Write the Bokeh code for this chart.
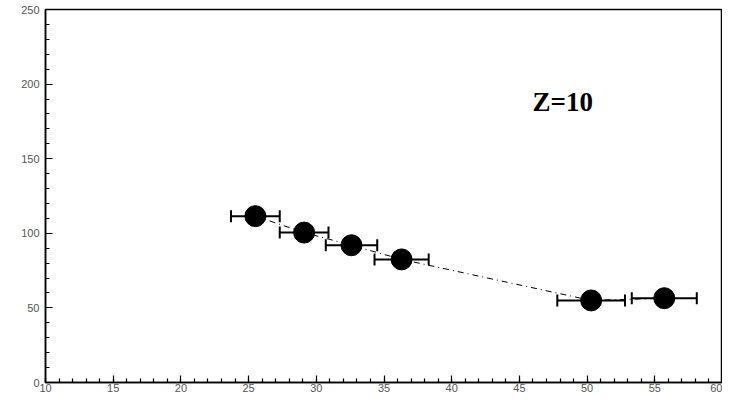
from bokeh.plotting import figure
from bokeh.models import ColumnDataSource, Whisker, TeeHead, FixedTicker, Range1d, Label
from bokeh.embed import file_html
from bokeh.resources import INLINE

x_vals = [25.5, 29.1, 32.6, 36.3, 50.3, 55.7]
y_vals = [111.5, 100.5, 92.0, 82.5, 55.0, 56.5]
x_err = [1.8, 1.8, 1.9, 2.0, 2.5, 2.4]
x_ticks = [10, 15, 20, 25, 30, 35, 40, 45, 50, 55, 60]
y_ticks = [0, 50, 100, 150, 200, 250]
label_text = "Z=10"

src = ColumnDataSource(data=dict(
    x=x_vals, y=y_vals,
    lo=[a - e for a, e in zip(x_vals, x_err)],
    hi=[a + e for a, e in zip(x_vals, x_err)],
))

p = figure(width=722, height=394, output_backend="svg", toolbar_location=None,
           x_range=Range1d(10, 60), y_range=Range1d(0, 250),
           min_border_left=45, min_border_right=0, min_border_top=9, min_border_bottom=0)
p.grid.visible = False
p.outline_line_color = "black"
p.outline_line_width = 1.5
p.background_fill_color = "white"
p.border_fill_color = "white"

for ax in (p.xaxis[0], p.yaxis[0]):
    ax.axis_line_width = 1.5
    ax.major_tick_in = 7
    ax.major_tick_out = 0
    ax.minor_tick_in = 4
    ax.minor_tick_out = 0
    ax.major_tick_line_width = 1.2
    ax.minor_tick_line_width = 1.2
    ax.major_label_text_font = "Liberation Sans"
    ax.major_label_text_font_size = "11px"
    ax.major_label_text_color = "#555555"
    ax.major_label_standoff = 6
p.xaxis[0].major_label_standoff = 1

p.xaxis[0].ticker = FixedTicker(ticks=x_ticks, minor_ticks=list(range(10, 61)))
p.yaxis[0].ticker = FixedTicker(ticks=y_ticks, minor_ticks=list(range(0, 251, 10)))

p.line("x", "y", source=src, line_color="black", line_width=1, line_dash="6 4 1 4")

w = Whisker(source=src, base="y", lower="lo", upper="hi", dimension="width",
            line_color="black", line_width=2,
            lower_head=TeeHead(size=12, line_color="black", line_width=2),
            upper_head=TeeHead(size=12, line_color="black", line_width=2))
p.add_layout(w)

p.scatter("x", "y", source=src, size=21, fill_color="black", line_color="black")

p.add_layout(Label(x=48.2, y=188, text=label_text, text_font="Liberation Serif",
                   text_font_style="bold", text_font_size="27px", text_align="center",
                   text_baseline="middle", text_color="black"))

open("out.html", "w").write(file_html(p, INLINE))
